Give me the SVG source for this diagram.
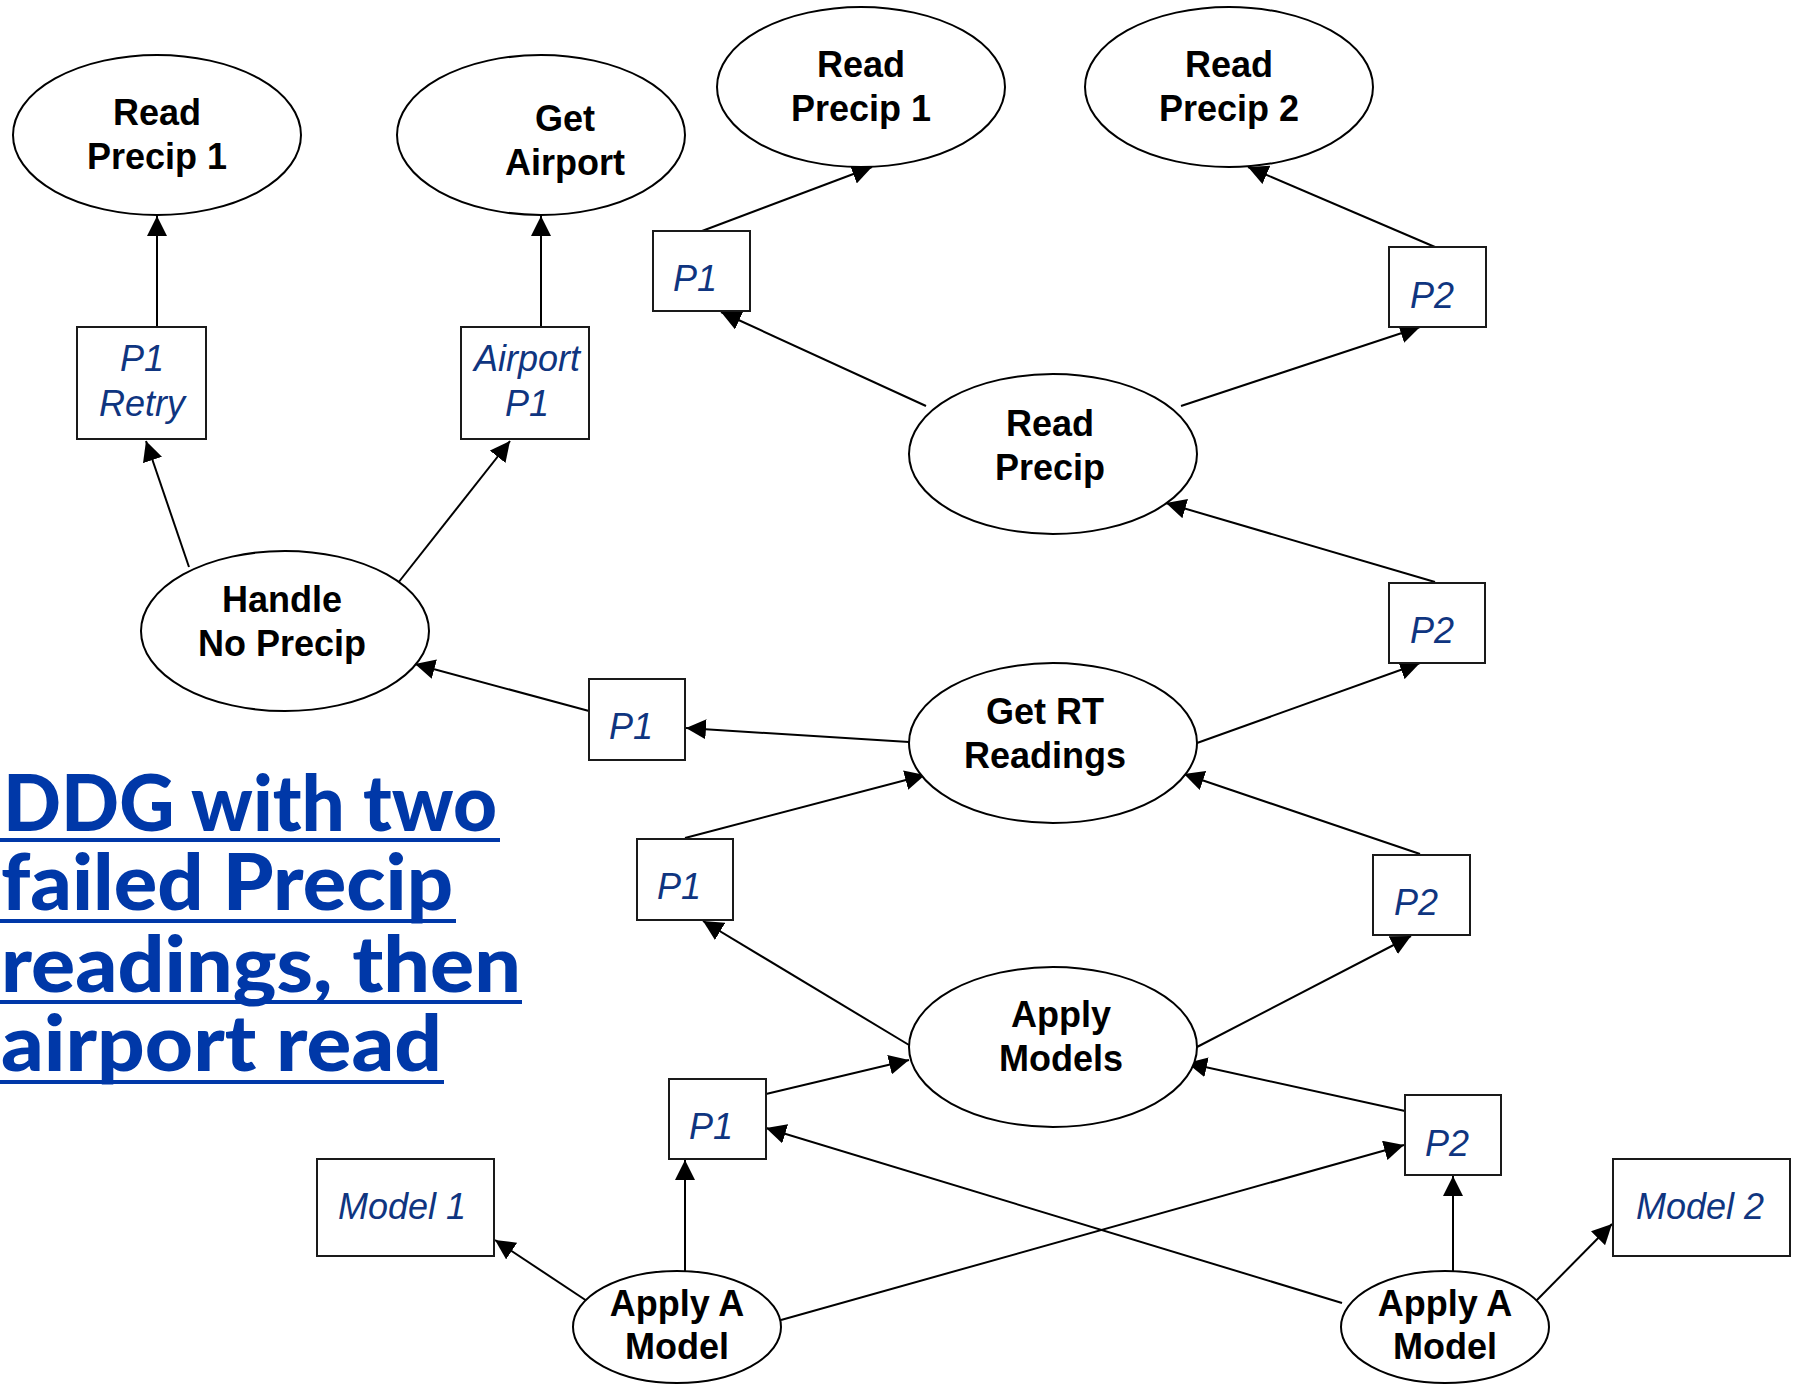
<svg xmlns="http://www.w3.org/2000/svg" width="1796" height="1388" viewBox="0 0 1796 1388">
  <defs>
    <marker id="arrow" markerUnits="userSpaceOnUse" markerWidth="20" markerHeight="20" refX="20" refY="10" orient="auto">
      <path d="M0,0 L20,10 L0,20 z" fill="#000"/>
    </marker>
    <style>
      .proc { fill: #fff; stroke: #000; stroke-width: 2; }
      .data { fill: #fff; stroke: #1a1a1a; stroke-width: 2; }
      .plabel { font-family: "Liberation Sans", Arial, sans-serif; font-weight: bold; font-size: 36px; fill: #000; text-anchor: middle; }
      .dlabel { font-family: "Liberation Sans", Arial, sans-serif; font-style: italic; font-size: 36px; fill: #0f3580; text-anchor: middle; }
      .edge { stroke: #000; stroke-width: 2; fill: none; marker-end: url(#arrow); }
      .title { font-family: Lato, "DejaVu Sans", sans-serif; font-weight: 900; font-size: 78px; fill: #0038a8; }
      .uline { fill: #0038a8; }
    </style>
  </defs>

  <rect width="1796" height="1388" fill="#fff"/>

  <!-- connectors -->
  <g id="connectors">
    <line class="edge" x1="157" y1="327" x2="157" y2="216"/>
    <line class="edge" x1="541" y1="327" x2="541" y2="216"/>
    <line class="edge" x1="189" y1="567" x2="146" y2="441"/>
    <line class="edge" x1="398" y1="583" x2="510" y2="441"/>
    <line class="edge" x1="926" y1="406" x2="721" y2="312"/>
    <line class="edge" x1="702" y1="231" x2="872" y2="167"/>
    <line class="edge" x1="1181" y1="406" x2="1420" y2="327"/>
    <line class="edge" x1="1435" y1="247" x2="1248" y2="167"/>
    <line class="edge" x1="1435" y1="582" x2="1166" y2="503"/>
    <line class="edge" x1="1197" y1="743" x2="1420" y2="663"/>
    <line class="edge" x1="909" y1="742" x2="686" y2="728"/>
    <line class="edge" x1="589" y1="711" x2="415" y2="664"/>
    <line class="edge" x1="685" y1="838" x2="925" y2="775"/>
    <line class="edge" x1="909" y1="1045" x2="703" y2="921"/>
    <line class="edge" x1="1420" y1="854" x2="1184" y2="774"/>
    <line class="edge" x1="1197" y1="1047" x2="1411" y2="936"/>
    <line class="edge" x1="766" y1="1094" x2="909" y2="1060"/>
    <line class="edge" x1="1405" y1="1111" x2="1187" y2="1063"/>
    <line class="edge" x1="685" y1="1271" x2="685" y2="1160"/>
    <line class="edge" x1="590" y1="1303" x2="495" y2="1240"/>
    <line class="edge" x1="781" y1="1320" x2="1404" y2="1145"/>
    <line class="edge" x1="1342" y1="1303" x2="766" y2="1128"/>
    <line class="edge" x1="1453" y1="1271" x2="1453" y2="1176"/>
    <line class="edge" x1="1534" y1="1303" x2="1612" y2="1224"/>
  </g>

  <!-- process nodes -->
  <g id="read-precip-1-left">
    <ellipse class="proc" cx="157" cy="135" rx="144" ry="80"/>
    <text class="plabel" x="157" y="125">Read</text>
    <text class="plabel" x="157" y="169">Precip 1</text>
  </g>
  <g id="get-airport">
    <ellipse class="proc" cx="541" cy="135" rx="144" ry="80"/>
    <text class="plabel" x="565" y="131">Get</text>
    <text class="plabel" x="565" y="175">Airport</text>
  </g>
  <g id="read-precip-1">
    <ellipse class="proc" cx="861" cy="87" rx="144" ry="80"/>
    <text class="plabel" x="861" y="77">Read</text>
    <text class="plabel" x="861" y="121">Precip 1</text>
  </g>
  <g id="read-precip-2">
    <ellipse class="proc" cx="1229" cy="87" rx="144" ry="80"/>
    <text class="plabel" x="1229" y="77">Read</text>
    <text class="plabel" x="1229" y="121">Precip 2</text>
  </g>
  <g id="read-precip">
    <ellipse class="proc" cx="1053" cy="454" rx="144" ry="80"/>
    <text class="plabel" x="1050" y="436">Read</text>
    <text class="plabel" x="1050" y="480">Precip</text>
  </g>
  <g id="handle-no-precip">
    <ellipse class="proc" cx="285" cy="631" rx="144" ry="80"/>
    <text class="plabel" x="282" y="612">Handle</text>
    <text class="plabel" x="282" y="656">No Precip</text>
  </g>
  <g id="get-rt-readings">
    <ellipse class="proc" cx="1053" cy="743" rx="144" ry="80"/>
    <text class="plabel" x="1045" y="724">Get RT</text>
    <text class="plabel" x="1045" y="768">Readings</text>
  </g>
  <g id="apply-models">
    <ellipse class="proc" cx="1053" cy="1047" rx="144" ry="80"/>
    <text class="plabel" x="1061" y="1027">Apply</text>
    <text class="plabel" x="1061" y="1071">Models</text>
  </g>
  <g id="apply-a-model-left">
    <ellipse class="proc" cx="677" cy="1327" rx="104" ry="56"/>
    <text class="plabel" x="677" y="1316">Apply A</text>
    <text class="plabel" x="677" y="1359">Model</text>
  </g>
  <g id="apply-a-model-right">
    <ellipse class="proc" cx="1445" cy="1327" rx="104" ry="56"/>
    <text class="plabel" x="1445" y="1316">Apply A</text>
    <text class="plabel" x="1445" y="1359">Model</text>
  </g>

  <!-- data nodes -->
  <g id="p1-retry">
    <rect class="data" x="77" y="327" width="129" height="112"/>
    <text class="dlabel" x="142" y="371">P1</text>
    <text class="dlabel" x="142" y="416">Retry</text>
  </g>
  <g id="airport-p1">
    <rect class="data" x="461" y="327" width="128" height="112"/>
    <text class="dlabel" x="527" y="371">Airport</text>
    <text class="dlabel" x="527" y="416">P1</text>
  </g>
  <g id="p1-a">
    <rect class="data" x="653" y="231" width="97" height="80"/>
    <text class="dlabel" x="695" y="291">P1</text>
  </g>
  <g id="p2-a">
    <rect class="data" x="1389" y="247" width="97" height="80"/>
    <text class="dlabel" x="1432" y="308">P2</text>
  </g>
  <g id="p2-b">
    <rect class="data" x="1389" y="583" width="96" height="80"/>
    <text class="dlabel" x="1432" y="643">P2</text>
  </g>
  <g id="p1-b">
    <rect class="data" x="589" y="679" width="96" height="81"/>
    <text class="dlabel" x="631" y="739">P1</text>
  </g>
  <g id="p1-c">
    <rect class="data" x="637" y="839" width="96" height="81"/>
    <text class="dlabel" x="679" y="899">P1</text>
  </g>
  <g id="p2-c">
    <rect class="data" x="1373" y="855" width="97" height="80"/>
    <text class="dlabel" x="1416" y="915">P2</text>
  </g>
  <g id="p1-d">
    <rect class="data" x="669" y="1079" width="97" height="80"/>
    <text class="dlabel" x="711" y="1139">P1</text>
  </g>
  <g id="p2-d">
    <rect class="data" x="1405" y="1095" width="96" height="80"/>
    <text class="dlabel" x="1447" y="1156">P2</text>
  </g>
  <g id="model-1">
    <rect class="data" x="317" y="1159" width="177" height="97"/>
    <text class="dlabel" x="402" y="1219">Model 1</text>
  </g>
  <g id="model-2">
    <rect class="data" x="1613" y="1159" width="177" height="97"/>
    <text class="dlabel" x="1700" y="1219">Model 2</text>
  </g>

  <!-- caption: one text block, four underlined lines -->
  <g id="caption">
    <text class="title">
      <tspan x="3" y="831" textLength="494" lengthAdjust="spacingAndGlyphs">DDG with two</tspan>
      <tspan x="1" y="910" textLength="452" lengthAdjust="spacingAndGlyphs">failed Precip</tspan>
      <tspan x="1" y="992" textLength="520" lengthAdjust="spacingAndGlyphs">readings, then</tspan>
      <tspan x="1" y="1071" textLength="441" lengthAdjust="spacingAndGlyphs">airport read</tspan>
    </text>
    <rect class="uline" x="0" y="838" width="500" height="4"/>
    <rect class="uline" x="0" y="919" width="456" height="4"/>
    <rect class="uline" x="0" y="1000" width="522" height="4"/>
    <rect class="uline" x="0" y="1080" width="444" height="4"/>
  </g>
</svg>
